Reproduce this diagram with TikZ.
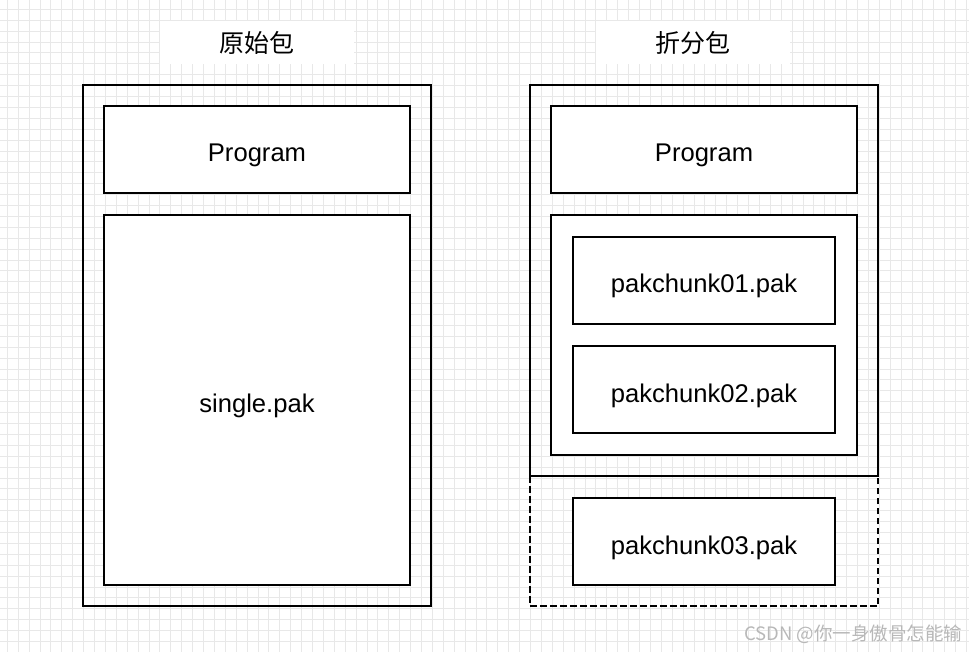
\documentclass[tikz,border=0pt]{standalone}
\usepackage{fontspec}
\setmainfont{Liberation Sans}
\newfontfamily\cjk{Noto Sans CJK SC}

\tikzset{
  gridline/.style={draw=black!9, line width=0.9pt},
  pakbox/.style={draw=black, line width=1.8pt, fill=white, inner sep=0pt,
                 text height=25pt, text depth=0pt,
                 font=\fontsize{25.6}{30}\selectfont},
  shell/.style={draw=black, line width=1.8pt},
  titlebg/.style={fill=white, inner sep=0pt, minimum width=194pt, minimum height=43pt,
                  font=\cjk\fontsize{25}{30}\selectfont}
}

\begin{document}
\begin{tikzpicture}[x=1pt, y=-1pt]

  \useasboundingbox (0,0) rectangle (969,652);

  % ============================================================
  % Background grid (about 10.9 px per cell)
  % ============================================================
  \fill[white] (0,0) rectangle (969,652);
  \foreach \k in {0,...,88}
    \draw[gridline] (7.3+10.9*\k,0) -- (7.3+10.9*\k,652);
  \foreach \k in {0,...,59}
    \draw[gridline] (0,9.3+10.9*\k) -- (969,9.3+10.9*\k);

  % ============================================================
  % LEFT — original package
  % ============================================================
  \begin{scope}

    \node[titlebg] (origtitle) at (256.5,42.5) {原始包};

    \draw[shell] (83,85) rectangle (431,606);

    \node[pakbox, minimum width=306pt, minimum height=87pt]
      (origprog) at (257,149.5) {Program};
    \node[pakbox, minimum width=306pt, minimum height=370pt]
      (single) at (257,400) {single.pak};

  \end{scope}

  % ============================================================
  % RIGHT — split package
  % ============================================================
  \begin{scope}

    \node[titlebg] (splittitle) at (693,42.5) {折分包};

    % solid shell, dashed extension below it
    \draw[shell] (530,85) rectangle (878,476);
    \draw[shell, dash pattern=on 6.5pt off 3.5pt]
      (530,476) -- (530,606) -- (878,606) -- (878,476);

    \node[pakbox, minimum width=306pt, minimum height=87pt]
      (splitprog) at (704,149.5) {Program};
    \node[pakbox, minimum width=306pt, minimum height=240pt]
      (chunks) at (704,335) {};

    \foreach \n/\y in {01/280.5, 02/389.5, 03/541.5}
      \node[pakbox, minimum width=262pt, minimum height=87pt]
        (chunk\n) at (704,\y) {pakchunk\n.pak};

  \end{scope}

  % ============================================================
  % Watermark
  % ============================================================
  \node[anchor=east, text=black!28, font=\cjk\fontsize{18.5}{22}\selectfont]
    (mark) at (966,634) {CSDN @你一身傲骨怎能输};

\end{tikzpicture}
\end{document}
